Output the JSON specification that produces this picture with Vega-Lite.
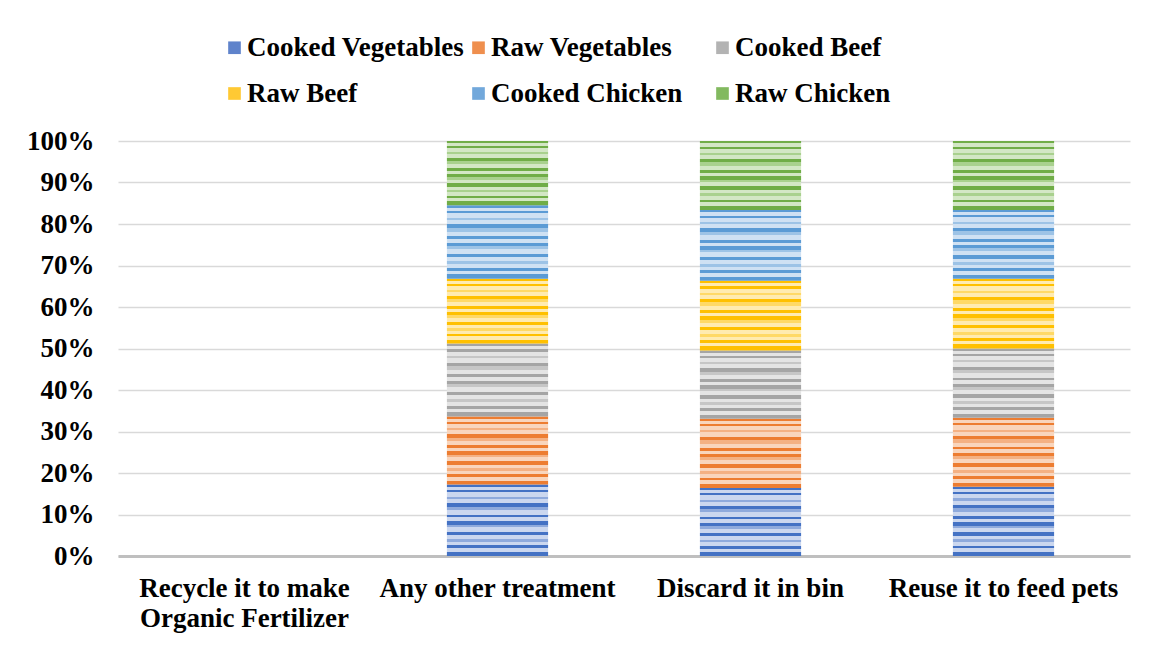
{
  "$schema": "https://vega.github.io/schema/vega-lite/v6.json",
  "width": 1012,
  "height": 415,
  "autosize": {"type": "none"},
  "padding": {"left": 118, "top": 141, "right": 33, "bottom": 90},
  "background": "#ffffff",
  "config": {
    "font": "Liberation Serif",
    "view": {"stroke": null}
  },
  "data": {
    "values": [
      {"treatment": "Any other treatment", "food": "Cooked Vegetables", "share": 17.2},
      {"treatment": "Any other treatment", "food": "Raw Vegetables", "share": 16.4},
      {"treatment": "Any other treatment", "food": "Cooked Beef", "share": 17.6},
      {"treatment": "Any other treatment", "food": "Raw Beef", "share": 15.6},
      {"treatment": "Any other treatment", "food": "Cooked Chicken", "share": 17.7},
      {"treatment": "Any other treatment", "food": "Raw Chicken", "share": 15.5},
      {"treatment": "Discard it in bin", "food": "Cooked Vegetables", "share": 16.4},
      {"treatment": "Discard it in bin", "food": "Raw Vegetables", "share": 16.7},
      {"treatment": "Discard it in bin", "food": "Cooked Beef", "share": 16.4},
      {"treatment": "Discard it in bin", "food": "Raw Beef", "share": 16.8},
      {"treatment": "Discard it in bin", "food": "Cooked Chicken", "share": 17.1},
      {"treatment": "Discard it in bin", "food": "Raw Chicken", "share": 16.6},
      {"treatment": "Reuse it to feed pets", "food": "Cooked Vegetables", "share": 16.7},
      {"treatment": "Reuse it to feed pets", "food": "Raw Vegetables", "share": 16.6},
      {"treatment": "Reuse it to feed pets", "food": "Cooked Beef", "share": 16.7},
      {"treatment": "Reuse it to feed pets", "food": "Raw Beef", "share": 16.8},
      {"treatment": "Reuse it to feed pets", "food": "Cooked Chicken", "share": 16.6},
      {"treatment": "Reuse it to feed pets", "food": "Raw Chicken", "share": 16.6}
    ]
  },
  "transform": [
    {"calculate": "indexof(['Cooked Vegetables','Raw Vegetables','Cooked Beef','Raw Beef','Cooked Chicken','Raw Chicken'], datum.food)", "as": "stackIndex"}
  ],
  "mark": {"type": "bar", "strokeWidth": 0},
  "encoding": {
    "x": {
      "field": "treatment",
      "type": "nominal",
      "title": null,
      "sort": null,
      "scale": {
        "domain": ["Recycle it to make Organic Fertilizer", "Any other treatment", "Discard it in bin", "Reuse it to feed pets"],
        "paddingInner": 0.6,
        "paddingOuter": 0.3
      },
      "axis": {
        "labelAngle": 0,
        "labelFont": "Liberation Serif",
        "labelFontSize": 27,
        "labelFontWeight": "bold",
        "labelColor": "#000000",
        "labelLimit": 400,
        "labelPadding": 19,
        "labelLineHeight": 30,
        "labelBaseline": "top",
        "labelExpr": "datum.label == 'Recycle it to make Organic Fertilizer' ? ['Recycle it to make', 'Organic Fertilizer'] : datum.label",
        "ticks": false,
        "tickSize": 0,
        "domainColor": "#bfbfbf",
        "domainWidth": 3,
        "grid": false
      }
    },
    "y": {
      "field": "share",
      "type": "quantitative",
      "stack": "normalize",
      "title": null,
      "scale": {"domain": [0, 1], "nice": false},
      "axis": {
        "values": [0, 0.1, 0.2, 0.3, 0.4, 0.5, 0.6, 0.7, 0.8, 0.9, 1],
        "format": ".0%",
        "labelFont": "Liberation Serif",
        "labelFontSize": 27,
        "labelFontWeight": "bold",
        "labelColor": "#000000",
        "labelPadding": 24,
        "ticks": false,
        "tickSize": 0,
        "domain": false,
        "grid": true,
        "gridColor": "#d9d9d9",
        "gridWidth": 1.5
      }
    },
    "order": {"field": "stackIndex", "type": "quantitative", "sort": "ascending"},
    "color": {
      "field": "food",
      "type": "nominal",
      "sort": null,
      "scale": {
        "domain": ["Cooked Vegetables", "Raw Vegetables", "Cooked Beef", "Raw Beef", "Cooked Chicken", "Raw Chicken"],
        "range": ["#5F83CB", "#EF8F4E", "#B3B3B3", "#FFC933", "#72A8DB", "#82B95F"]
      },
      "legend": {
        "title": null,
        "orient": "none",
        "direction": "horizontal",
        "legendX": 103,
        "legendY": -107,
        "columns": 3,
        "gridAlign": "all",
        "columnPadding": 0,
        "rowPadding": 18,
        "padding": 0,
        "symbolType": "square",
        "symbolSize": 160,
        "symbolStrokeWidth": 0,
        "symbolOpacity": 1,
        "labelFont": "Liberation Serif",
        "labelFontSize": 27,
        "labelFontWeight": "bold",
        "labelColor": "#000000",
        "labelOffset": -1,
        "labelLimit": 400
      },
      "condition": [
        {"test": "datum.food == 'Cooked Vegetables'", "value": {"gradient": "linear", "x1": 0, "y1": 0, "x2": 0, "y2": 1, "stops": [
          {"offset": 0, "color": "#4472C4"}, {"offset": 0.03, "color": "#4472C4"},
          {"offset": 0.03, "color": "#CBD7EF"}, {"offset": 0.08, "color": "#CBD7EF"},
          {"offset": 0.08, "color": "#4472C4"}, {"offset": 0.11, "color": "#4472C4"},
          {"offset": 0.11, "color": "#CBD7EF"}, {"offset": 0.17, "color": "#CBD7EF"},
          {"offset": 0.17, "color": "#8FAADC"}, {"offset": 0.2, "color": "#8FAADC"},
          {"offset": 0.2, "color": "#CBD7EF"}, {"offset": 0.26, "color": "#CBD7EF"},
          {"offset": 0.26, "color": "#4472C4"}, {"offset": 0.31, "color": "#4472C4"},
          {"offset": 0.31, "color": "#8FAADC"}, {"offset": 0.36, "color": "#8FAADC"},
          {"offset": 0.36, "color": "#CBD7EF"}, {"offset": 0.42, "color": "#CBD7EF"},
          {"offset": 0.42, "color": "#4472C4"}, {"offset": 0.46, "color": "#4472C4"},
          {"offset": 0.46, "color": "#CBD7EF"}, {"offset": 0.51, "color": "#CBD7EF"},
          {"offset": 0.51, "color": "#4472C4"}, {"offset": 0.56, "color": "#4472C4"},
          {"offset": 0.56, "color": "#8FAADC"}, {"offset": 0.6, "color": "#8FAADC"},
          {"offset": 0.6, "color": "#CBD7EF"}, {"offset": 0.66, "color": "#CBD7EF"},
          {"offset": 0.66, "color": "#4472C4"}, {"offset": 0.71, "color": "#4472C4"},
          {"offset": 0.71, "color": "#CBD7EF"}, {"offset": 0.76, "color": "#CBD7EF"},
          {"offset": 0.76, "color": "#8FAADC"}, {"offset": 0.8, "color": "#8FAADC"},
          {"offset": 0.8, "color": "#CBD7EF"}, {"offset": 0.85, "color": "#CBD7EF"},
          {"offset": 0.85, "color": "#4472C4"}, {"offset": 0.89, "color": "#4472C4"},
          {"offset": 0.89, "color": "#CBD7EF"}, {"offset": 0.94, "color": "#CBD7EF"},
          {"offset": 0.94, "color": "#4472C4"}, {"offset": 1, "color": "#4472C4"}
        ]}},
        {"test": "datum.food == 'Raw Vegetables'", "value": {"gradient": "linear", "x1": 0, "y1": 0, "x2": 0, "y2": 1, "stops": [
          {"offset": 0, "color": "#ED7D31"}, {"offset": 0.03, "color": "#ED7D31"},
          {"offset": 0.03, "color": "#F9D5BC"}, {"offset": 0.08, "color": "#F9D5BC"},
          {"offset": 0.08, "color": "#ED7D31"}, {"offset": 0.11, "color": "#ED7D31"},
          {"offset": 0.11, "color": "#F9D5BC"}, {"offset": 0.17, "color": "#F9D5BC"},
          {"offset": 0.17, "color": "#F4B183"}, {"offset": 0.2, "color": "#F4B183"},
          {"offset": 0.2, "color": "#F9D5BC"}, {"offset": 0.26, "color": "#F9D5BC"},
          {"offset": 0.26, "color": "#ED7D31"}, {"offset": 0.31, "color": "#ED7D31"},
          {"offset": 0.31, "color": "#F4B183"}, {"offset": 0.36, "color": "#F4B183"},
          {"offset": 0.36, "color": "#F9D5BC"}, {"offset": 0.42, "color": "#F9D5BC"},
          {"offset": 0.42, "color": "#ED7D31"}, {"offset": 0.46, "color": "#ED7D31"},
          {"offset": 0.46, "color": "#F9D5BC"}, {"offset": 0.51, "color": "#F9D5BC"},
          {"offset": 0.51, "color": "#ED7D31"}, {"offset": 0.56, "color": "#ED7D31"},
          {"offset": 0.56, "color": "#F4B183"}, {"offset": 0.6, "color": "#F4B183"},
          {"offset": 0.6, "color": "#F9D5BC"}, {"offset": 0.66, "color": "#F9D5BC"},
          {"offset": 0.66, "color": "#ED7D31"}, {"offset": 0.71, "color": "#ED7D31"},
          {"offset": 0.71, "color": "#F9D5BC"}, {"offset": 0.76, "color": "#F9D5BC"},
          {"offset": 0.76, "color": "#F4B183"}, {"offset": 0.8, "color": "#F4B183"},
          {"offset": 0.8, "color": "#F9D5BC"}, {"offset": 0.85, "color": "#F9D5BC"},
          {"offset": 0.85, "color": "#ED7D31"}, {"offset": 0.89, "color": "#ED7D31"},
          {"offset": 0.89, "color": "#F9D5BC"}, {"offset": 0.94, "color": "#F9D5BC"},
          {"offset": 0.94, "color": "#ED7D31"}, {"offset": 1, "color": "#ED7D31"}
        ]}},
        {"test": "datum.food == 'Cooked Beef'", "value": {"gradient": "linear", "x1": 0, "y1": 0, "x2": 0, "y2": 1, "stops": [
          {"offset": 0, "color": "#A5A5A5"}, {"offset": 0.03, "color": "#A5A5A5"},
          {"offset": 0.03, "color": "#E4E4E4"}, {"offset": 0.08, "color": "#E4E4E4"},
          {"offset": 0.08, "color": "#A5A5A5"}, {"offset": 0.11, "color": "#A5A5A5"},
          {"offset": 0.11, "color": "#E4E4E4"}, {"offset": 0.17, "color": "#E4E4E4"},
          {"offset": 0.17, "color": "#C6C6C6"}, {"offset": 0.2, "color": "#C6C6C6"},
          {"offset": 0.2, "color": "#E4E4E4"}, {"offset": 0.26, "color": "#E4E4E4"},
          {"offset": 0.26, "color": "#A5A5A5"}, {"offset": 0.31, "color": "#A5A5A5"},
          {"offset": 0.31, "color": "#C6C6C6"}, {"offset": 0.36, "color": "#C6C6C6"},
          {"offset": 0.36, "color": "#E4E4E4"}, {"offset": 0.42, "color": "#E4E4E4"},
          {"offset": 0.42, "color": "#A5A5A5"}, {"offset": 0.46, "color": "#A5A5A5"},
          {"offset": 0.46, "color": "#E4E4E4"}, {"offset": 0.51, "color": "#E4E4E4"},
          {"offset": 0.51, "color": "#A5A5A5"}, {"offset": 0.56, "color": "#A5A5A5"},
          {"offset": 0.56, "color": "#C6C6C6"}, {"offset": 0.6, "color": "#C6C6C6"},
          {"offset": 0.6, "color": "#E4E4E4"}, {"offset": 0.66, "color": "#E4E4E4"},
          {"offset": 0.66, "color": "#A5A5A5"}, {"offset": 0.71, "color": "#A5A5A5"},
          {"offset": 0.71, "color": "#E4E4E4"}, {"offset": 0.76, "color": "#E4E4E4"},
          {"offset": 0.76, "color": "#C6C6C6"}, {"offset": 0.8, "color": "#C6C6C6"},
          {"offset": 0.8, "color": "#E4E4E4"}, {"offset": 0.85, "color": "#E4E4E4"},
          {"offset": 0.85, "color": "#A5A5A5"}, {"offset": 0.89, "color": "#A5A5A5"},
          {"offset": 0.89, "color": "#E4E4E4"}, {"offset": 0.94, "color": "#E4E4E4"},
          {"offset": 0.94, "color": "#A5A5A5"}, {"offset": 1, "color": "#A5A5A5"}
        ]}},
        {"test": "datum.food == 'Raw Beef'", "value": {"gradient": "linear", "x1": 0, "y1": 0, "x2": 0, "y2": 1, "stops": [
          {"offset": 0, "color": "#FFC000"}, {"offset": 0.03, "color": "#FFC000"},
          {"offset": 0.03, "color": "#FFEBB0"}, {"offset": 0.08, "color": "#FFEBB0"},
          {"offset": 0.08, "color": "#FFC000"}, {"offset": 0.11, "color": "#FFC000"},
          {"offset": 0.11, "color": "#FFEBB0"}, {"offset": 0.17, "color": "#FFEBB0"},
          {"offset": 0.17, "color": "#FFD966"}, {"offset": 0.2, "color": "#FFD966"},
          {"offset": 0.2, "color": "#FFEBB0"}, {"offset": 0.26, "color": "#FFEBB0"},
          {"offset": 0.26, "color": "#FFC000"}, {"offset": 0.31, "color": "#FFC000"},
          {"offset": 0.31, "color": "#FFD966"}, {"offset": 0.36, "color": "#FFD966"},
          {"offset": 0.36, "color": "#FFEBB0"}, {"offset": 0.42, "color": "#FFEBB0"},
          {"offset": 0.42, "color": "#FFC000"}, {"offset": 0.46, "color": "#FFC000"},
          {"offset": 0.46, "color": "#FFEBB0"}, {"offset": 0.51, "color": "#FFEBB0"},
          {"offset": 0.51, "color": "#FFC000"}, {"offset": 0.56, "color": "#FFC000"},
          {"offset": 0.56, "color": "#FFD966"}, {"offset": 0.6, "color": "#FFD966"},
          {"offset": 0.6, "color": "#FFEBB0"}, {"offset": 0.66, "color": "#FFEBB0"},
          {"offset": 0.66, "color": "#FFC000"}, {"offset": 0.71, "color": "#FFC000"},
          {"offset": 0.71, "color": "#FFEBB0"}, {"offset": 0.76, "color": "#FFEBB0"},
          {"offset": 0.76, "color": "#FFD966"}, {"offset": 0.8, "color": "#FFD966"},
          {"offset": 0.8, "color": "#FFEBB0"}, {"offset": 0.85, "color": "#FFEBB0"},
          {"offset": 0.85, "color": "#FFC000"}, {"offset": 0.89, "color": "#FFC000"},
          {"offset": 0.89, "color": "#FFEBB0"}, {"offset": 0.94, "color": "#FFEBB0"},
          {"offset": 0.94, "color": "#FFC000"}, {"offset": 1, "color": "#FFC000"}
        ]}},
        {"test": "datum.food == 'Cooked Chicken'", "value": {"gradient": "linear", "x1": 0, "y1": 0, "x2": 0, "y2": 1, "stops": [
          {"offset": 0, "color": "#5B9BD5"}, {"offset": 0.03, "color": "#5B9BD5"},
          {"offset": 0.03, "color": "#CFE1F3"}, {"offset": 0.08, "color": "#CFE1F3"},
          {"offset": 0.08, "color": "#5B9BD5"}, {"offset": 0.11, "color": "#5B9BD5"},
          {"offset": 0.11, "color": "#CFE1F3"}, {"offset": 0.17, "color": "#CFE1F3"},
          {"offset": 0.17, "color": "#9DC3E6"}, {"offset": 0.2, "color": "#9DC3E6"},
          {"offset": 0.2, "color": "#CFE1F3"}, {"offset": 0.26, "color": "#CFE1F3"},
          {"offset": 0.26, "color": "#5B9BD5"}, {"offset": 0.31, "color": "#5B9BD5"},
          {"offset": 0.31, "color": "#9DC3E6"}, {"offset": 0.36, "color": "#9DC3E6"},
          {"offset": 0.36, "color": "#CFE1F3"}, {"offset": 0.42, "color": "#CFE1F3"},
          {"offset": 0.42, "color": "#5B9BD5"}, {"offset": 0.46, "color": "#5B9BD5"},
          {"offset": 0.46, "color": "#CFE1F3"}, {"offset": 0.51, "color": "#CFE1F3"},
          {"offset": 0.51, "color": "#5B9BD5"}, {"offset": 0.56, "color": "#5B9BD5"},
          {"offset": 0.56, "color": "#9DC3E6"}, {"offset": 0.6, "color": "#9DC3E6"},
          {"offset": 0.6, "color": "#CFE1F3"}, {"offset": 0.66, "color": "#CFE1F3"},
          {"offset": 0.66, "color": "#5B9BD5"}, {"offset": 0.71, "color": "#5B9BD5"},
          {"offset": 0.71, "color": "#CFE1F3"}, {"offset": 0.76, "color": "#CFE1F3"},
          {"offset": 0.76, "color": "#9DC3E6"}, {"offset": 0.8, "color": "#9DC3E6"},
          {"offset": 0.8, "color": "#CFE1F3"}, {"offset": 0.85, "color": "#CFE1F3"},
          {"offset": 0.85, "color": "#5B9BD5"}, {"offset": 0.89, "color": "#5B9BD5"},
          {"offset": 0.89, "color": "#CFE1F3"}, {"offset": 0.94, "color": "#CFE1F3"},
          {"offset": 0.94, "color": "#5B9BD5"}, {"offset": 1, "color": "#5B9BD5"}
        ]}},
        {"test": "datum.food == 'Raw Chicken'", "value": {"gradient": "linear", "x1": 0, "y1": 0, "x2": 0, "y2": 1, "stops": [
          {"offset": 0, "color": "#70AD47"}, {"offset": 0.03, "color": "#70AD47"},
          {"offset": 0.03, "color": "#D3E7C5"}, {"offset": 0.08, "color": "#D3E7C5"},
          {"offset": 0.08, "color": "#70AD47"}, {"offset": 0.11, "color": "#70AD47"},
          {"offset": 0.11, "color": "#D3E7C5"}, {"offset": 0.17, "color": "#D3E7C5"},
          {"offset": 0.17, "color": "#A9D18E"}, {"offset": 0.2, "color": "#A9D18E"},
          {"offset": 0.2, "color": "#D3E7C5"}, {"offset": 0.26, "color": "#D3E7C5"},
          {"offset": 0.26, "color": "#70AD47"}, {"offset": 0.31, "color": "#70AD47"},
          {"offset": 0.31, "color": "#A9D18E"}, {"offset": 0.36, "color": "#A9D18E"},
          {"offset": 0.36, "color": "#D3E7C5"}, {"offset": 0.42, "color": "#D3E7C5"},
          {"offset": 0.42, "color": "#70AD47"}, {"offset": 0.46, "color": "#70AD47"},
          {"offset": 0.46, "color": "#D3E7C5"}, {"offset": 0.51, "color": "#D3E7C5"},
          {"offset": 0.51, "color": "#70AD47"}, {"offset": 0.56, "color": "#70AD47"},
          {"offset": 0.56, "color": "#A9D18E"}, {"offset": 0.6, "color": "#A9D18E"},
          {"offset": 0.6, "color": "#D3E7C5"}, {"offset": 0.66, "color": "#D3E7C5"},
          {"offset": 0.66, "color": "#70AD47"}, {"offset": 0.71, "color": "#70AD47"},
          {"offset": 0.71, "color": "#D3E7C5"}, {"offset": 0.76, "color": "#D3E7C5"},
          {"offset": 0.76, "color": "#A9D18E"}, {"offset": 0.8, "color": "#A9D18E"},
          {"offset": 0.8, "color": "#D3E7C5"}, {"offset": 0.85, "color": "#D3E7C5"},
          {"offset": 0.85, "color": "#70AD47"}, {"offset": 0.89, "color": "#70AD47"},
          {"offset": 0.89, "color": "#D3E7C5"}, {"offset": 0.94, "color": "#D3E7C5"},
          {"offset": 0.94, "color": "#70AD47"}, {"offset": 1, "color": "#70AD47"}
        ]}}
      ]
    }
  }
}
